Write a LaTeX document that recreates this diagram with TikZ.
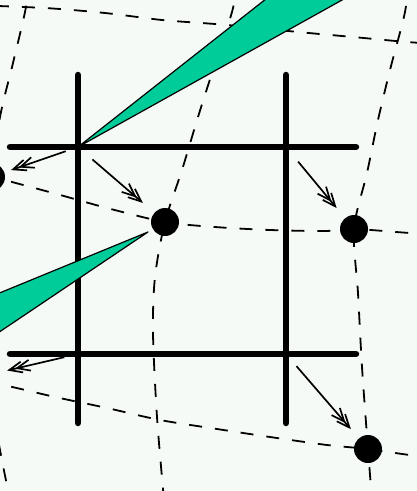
\documentclass[tikz,border=0pt]{standalone}
\usetikzlibrary{arrows.meta}
\definecolor{bgc}{RGB}{246,250,247}
\definecolor{wedge}{RGB}{0,204,153}
\tikzset{
  gridline/.style={line width=6.5pt, line cap=round},
  deform/.style={line width=1.8pt, dash pattern=on 13pt off 13pt},
  dot/.style={circle, fill=black, minimum size=28pt, inner sep=0pt},
  disp/.style={line width=1.7pt, -{Straight Barb[length=13pt,width=11pt,sep=-8pt]Straight Barb[length=13pt,width=11pt]}},
  wedgefill/.style={fill=wedge, draw=black, line width=1.2pt, line join=round}
}
\begin{document}
\begin{tikzpicture}[x=1pt,y=-1pt]
\fill[bgc] (0,0) rectangle (417,491);
\useasboundingbox (0,0) rectangle (417,491);
\clip (0,0) rectangle (417,491);
% deformed grid
\draw[deform] plot[smooth] coordinates {(-30,5) (45,8) (105,13) (162,20) (215,24) (260,28) (298,32) (353,37) (407,42) (440,44)};
\draw[deform] plot[smooth] coordinates {(-40,172) (-8,177) (53,193) (107,208) (165,222) (215,227) (270,230) (325,231) (354,229) (410,233) (440,234)};
\draw[deform] plot[smooth] coordinates {(-40,378) (3,385) (55,397) (107,408) (160,420) (217,429) (270,437) (327,445) (368,449) (410,455) (440,457)};
\draw[deform] plot[smooth] coordinates {(30,-20) (25,12) (13,63) (0,117) (-8,177) (-15,300) (-12,380) (0,450) (10,500)};
\draw[deform] plot[smooth] coordinates {(238,-20) (232,12) (213,70) (198,117) (182,170) (165,222) (155,277) (153,333) (157,417) (164,500)};
\draw[deform] plot[smooth] coordinates {(408,-20) (405,12) (390,70) (378,120) (367,173) (354,229) (358,293) (362,367) (368,449) (372,500)};
% regular grid
\draw[gridline] (78,75) -- (78,423);
\draw[gridline] (286,75) -- (286,423);
\draw[gridline] (10,147) -- (356,147);
\draw[gridline] (10,354) -- (356,354);
\coordinate (g11) at (78,147);
\coordinate (g21) at (286,147);
\coordinate (g12) at (78,354);
\coordinate (g22) at (286,354);
% wedges
\draw[wedgefill] (g11) -- (290,-20) -- (378,-20) -- cycle;
\draw[wedgefill] (148,232) -- (-20,301) -- (-20,345) -- cycle;
% displaced points
\node[dot] (d0) at (-9,177) {};
\node[dot] (d1) at (165,222) {};
\node[dot] (d2) at (354,229) {};
\node[dot] (d3) at (368,449) {};
\coordinate (d4) at (-25,378);
% displacement arrows
\draw[disp, shorten <=19pt, shorten >=15pt] (g11) -- (d1);
\draw[disp, shorten <=19pt, shorten >=13pt] (g21) -- (d2);
\draw[disp, shorten <=13pt, shorten >=7pt] (g11) -- (d0);
\draw[disp, shorten <=14pt, shorten >=33pt] (g12) -- (d4);
\draw[disp, shorten <=16pt, shorten >=12pt] (g22) -- (d3);
\end{tikzpicture}
\end{document}
